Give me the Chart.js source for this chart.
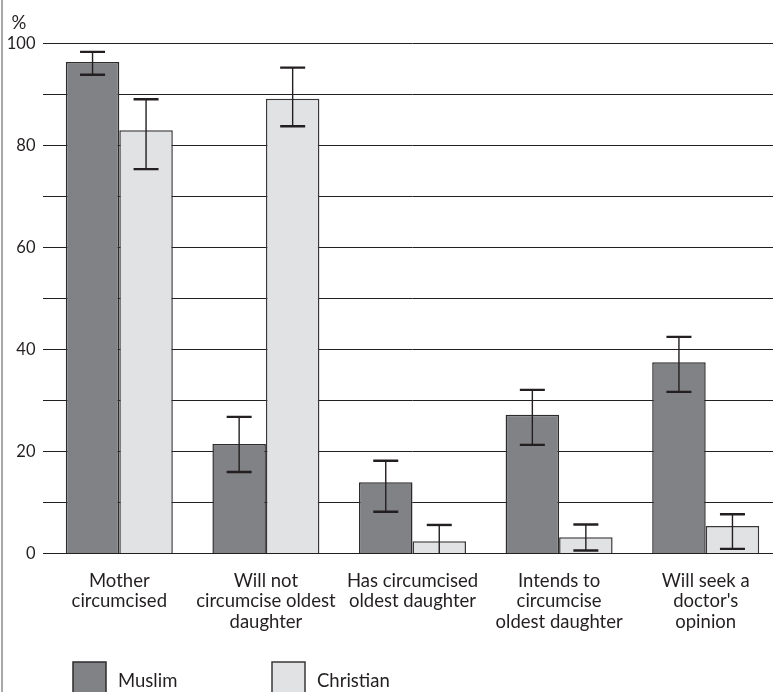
<!DOCTYPE html>
<html>
<head>
<meta charset="utf-8">
<script src="https://cdn.jsdelivr.net/npm/chart.js@4/dist/chart.umd.min.js"></script>
<style>
  html, body { margin: 0; padding: 0; background: #fff; overflow: hidden; width: 773px; height: 692px; }
  #wrap { width: 779px; height: 692px; position: relative; }
</style>
</head>
<body>
<div id="wrap"><canvas id="c" width="779" height="692"></canvas></div>
<script>
// ---- data ----
const categories = [
  ["Mother", "circumcised"],
  ["Will not", "circumcise oldest", "daughter"],
  ["Has circumcised", "oldest daughter"],
  ["Intends to", "circumcise", "oldest daughter"],
  ["Will seek a", "doctor's", "opinion"]
];
const seriesNames = ["Muslim", "Christian"];
const muslimValues    = [96.4, 21.5, 14.0, 27.2, 37.5];
const muslimLower     = [93.9, 16.0, 8.2, 21.3, 31.7];
const muslimUpper     = [98.4, 26.8, 18.2, 32.1, 42.5];
const christianValues = [83.0, 89.2, 2.4, 3.2, 5.4];
const christianLower  = [75.4, 83.8, 0.0, 0.6, 0.9];
const christianUpper  = [89.1, 95.3, 5.6, 5.7, 7.7];
const yTickLabels = [0, 20, 40, 60, 80, 100];
const yUnit = "%";

const FONT = "Lato, 'Liberation Sans', sans-serif";
const FS = 18.5;

const errorBars = {
  id: 'errorBars',
  afterDatasetsDraw(chart) {
    const ctx = chart.ctx;
    const y = chart.scales.y;
    chart.data.datasets.forEach((ds, di) => {
      const meta = chart.getDatasetMeta(di);
      meta.data.forEach((bar, i) => {
        const x = bar.x;
        const yHi = y.getPixelForValue(ds.errUpper[i]);
        const yLo = y.getPixelForValue(ds.errLower[i]);
        const half = 12.5;
        ctx.save();
        ctx.strokeStyle = '#231f20';
        ctx.lineWidth = 1.4;
        ctx.beginPath();
        ctx.moveTo(x, yHi); ctx.lineTo(x, yLo);
        ctx.stroke();
        ctx.lineWidth = 2.4;
        ctx.beginPath();
        ctx.moveTo(x - half, yHi); ctx.lineTo(x + half, yHi);
        if (ds.errLower[i] > 0) {
          ctx.moveTo(x - half, yLo); ctx.lineTo(x + half, yLo);
        }
        ctx.stroke();
        ctx.restore();
      });
    });
  }
};

const decorations = {
  id: 'decorations',
  afterDraw(chart) {
    const ctx = chart.ctx;
    ctx.save();
    // left frame line
    ctx.strokeStyle = '#6d6e71';
    ctx.lineWidth = 1.2;
    ctx.beginPath();
    ctx.moveTo(2, 0); ctx.lineTo(2, chart.height);
    ctx.stroke();
    // unit label
    ctx.fillStyle = '#231f20';
    ctx.font = FS + 'px ' + FONT;
    ctx.textBaseline = 'alphabetic';
    ctx.textAlign = 'left';
    ctx.fillText(yUnit, 11.5, 28.5);
    // legend
    const boxX = [73, 272];
    chart.data.datasets.forEach((ds, i) => {
      const bx = boxX[i];
      ctx.fillStyle = ds.backgroundColor;
      ctx.strokeStyle = ds.borderColor;
      ctx.lineWidth = 1.5;
      ctx.fillRect(bx, 662, 33, 33);
      ctx.strokeRect(bx, 662, 33, 33);
      ctx.fillStyle = '#231f20';
      ctx.fillText(ds.label, bx + 45, 687);
    });
    ctx.restore();
  }
};

new Chart(document.getElementById('c'), {
  type: 'bar',
  data: {
    labels: categories,
    datasets: [
      { label: seriesNames[0], data: muslimValues, errLower: muslimLower, errUpper: muslimUpper,
        backgroundColor: '#808285', borderColor: '#2e2b2c', borderWidth: 1.5 },
      { label: seriesNames[1], data: christianValues, errLower: christianLower, errUpper: christianUpper,
        backgroundColor: '#e1e2e4', borderColor: '#3a3738', borderWidth: 1.5 }
    ]
  },
  options: {
    responsive: false,
    animation: false,
    devicePixelRatio: 1,
    categoryPercentage: 0.73,
    barPercentage: 1.0,
    layout: { padding: { top: 43.7, left: 0, right: 0, bottom: 0 } },
    plugins: { legend: { display: false }, tooltip: { enabled: false } },
    scales: {
      x: {
        grid: { display: false, drawTicks: false },
        border: { display: false },
        ticks: {
          autoSkip: false, maxRotation: 0, minRotation: 0, padding: 17,
          color: '#231f20',
          font: { family: FONT, size: FS, lineHeight: 1.11 }
        },
        afterFit(scale) { scale.height = 138.5; }
      },
      y: {
        min: 0, max: 100,
        grid: { color: '#231f20', lineWidth: 1, drawTicks: true, tickLength: 3 },
        border: { display: false },
        ticks: {
          stepSize: 10, padding: 7.5, color: '#231f20',
          font: { family: FONT, size: 16.5 },
          callback: v => yTickLabels.includes(v) ? String(v) : ''
        },
        afterFit(scale) { scale.width = 46; }
      }
    }
  },
  plugins: [errorBars, decorations]
});
</script>
</body>
</html>
